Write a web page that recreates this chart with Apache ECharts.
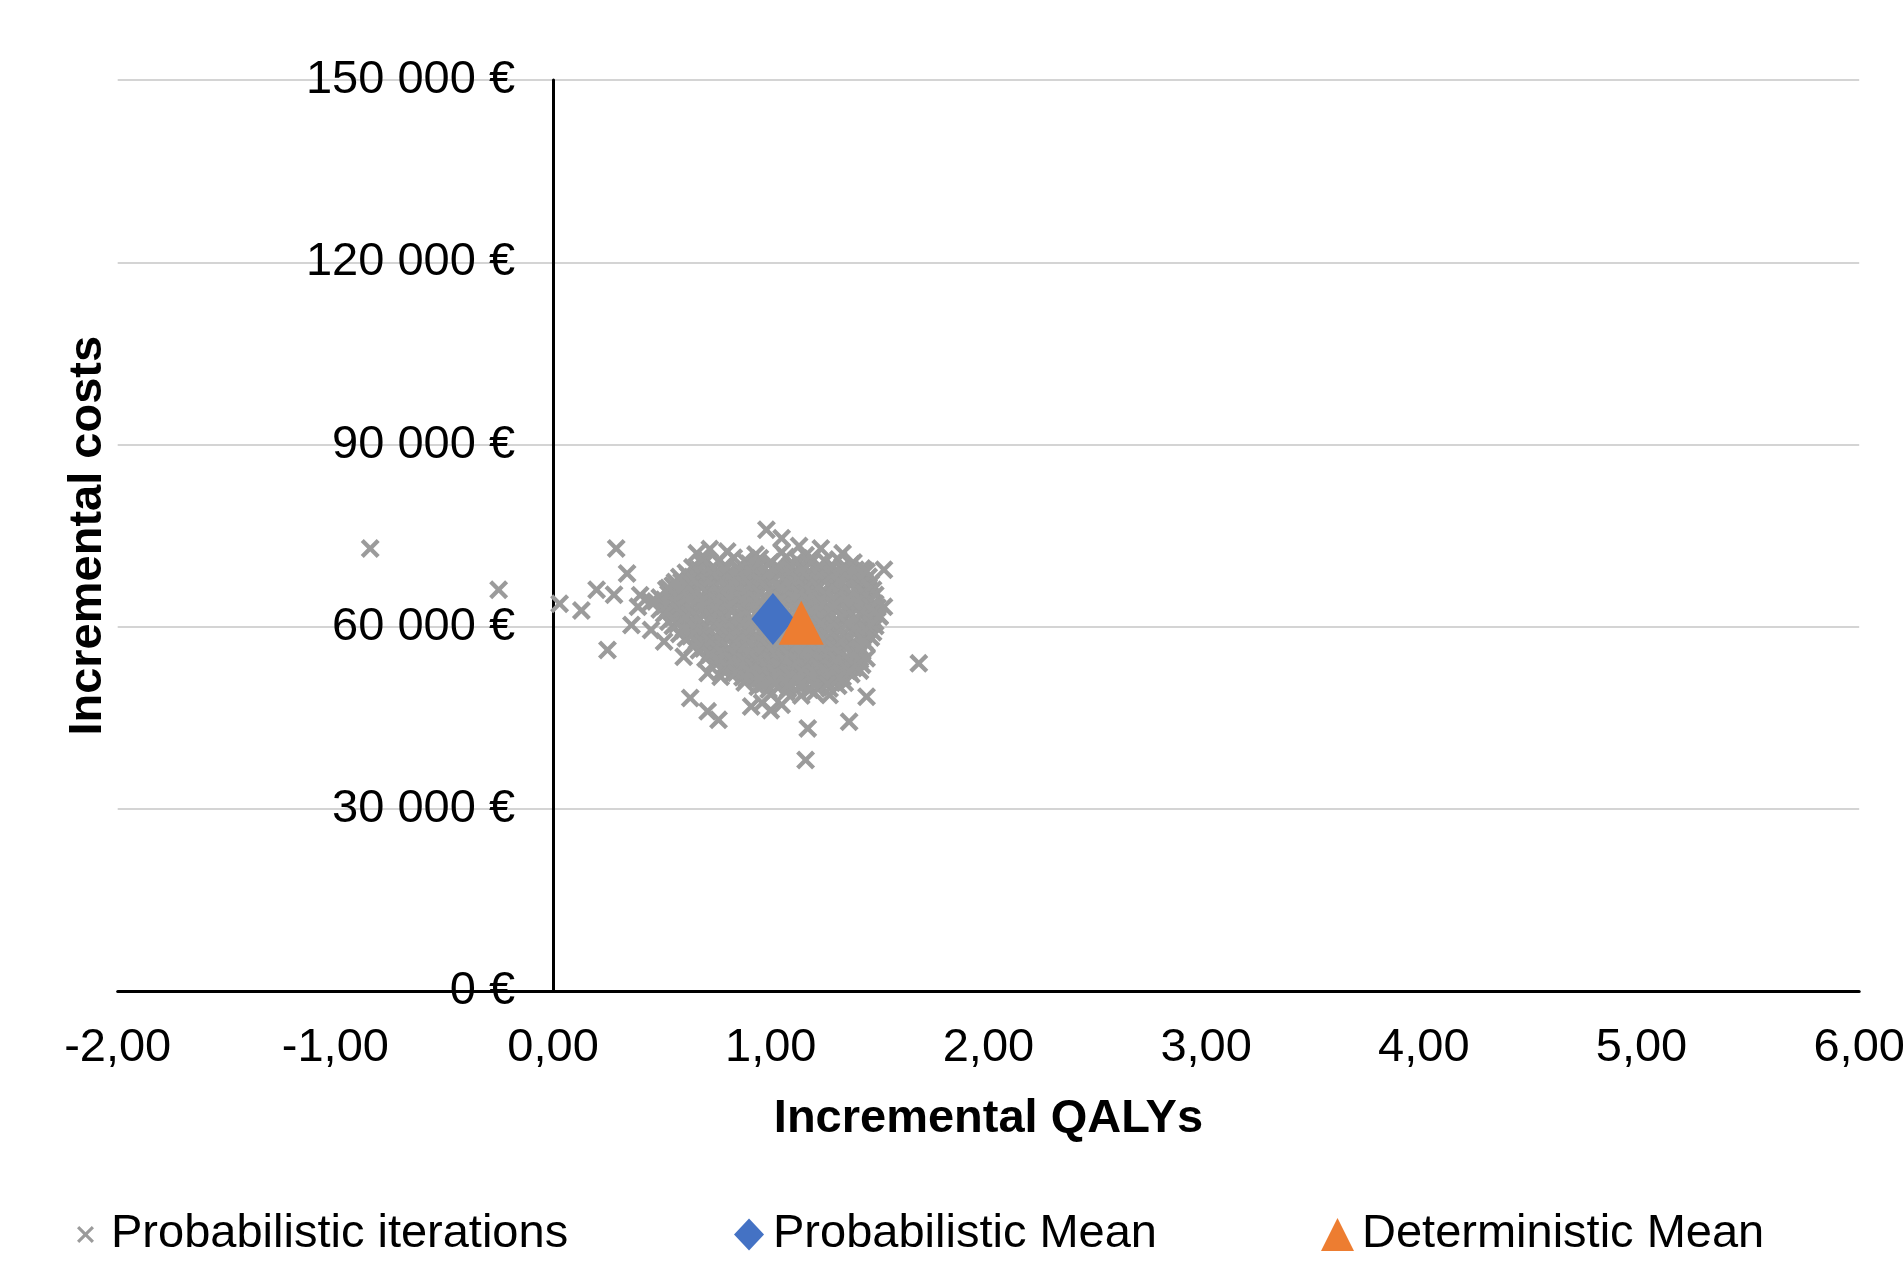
<!DOCTYPE html>
<html>
<head>
<meta charset="utf-8">
<script src="https://cdn.jsdelivr.net/npm/echarts@6/dist/echarts.min.js"></script>
<style>
  html, body { margin: 0; padding: 0; background: #ffffff; }
  #chart { width: 1903px; height: 1265px; }
</style>
</head>
<body>
<div id="chart"></div>
<script>
// ---------- DATA ----------
const xTickLabels = ['-2,00', '-1,00', '0,00', '1,00', '2,00', '3,00', '4,00', '5,00', '6,00'];
const yTickLabels = ['0 €', '30 000 €', '60 000 €', '90 000 €', '120 000 €', '150 000 €'];

const seriesNames = ['Probabilistic iterations', 'Probabilistic Mean', 'Deterministic Mean'];

// Probabilistic mean and deterministic mean [QALYs, costs]
const probabilisticMean = [[1.01, 61300]];
const deterministicMean = [[1.14, 60700]];

// Probabilistic iterations: scattered outliers around the main cloud
const iterationsOutliers = [
  [-0.84, 72900], [-0.25, 66100], [0.03, 63800], [0.13, 62700], [0.20, 66100], [0.28, 65300],
  [0.25, 56200], [0.29, 72900], [0.34, 68800], [0.36, 60300], [0.40, 65200], [0.39, 63300],
  [0.45, 64100], [0.45, 59500], [0.51, 57600], [0.53, 66400], [0.56, 67400], [0.60, 55100],
  [0.71, 52400], [0.77, 51800], [0.63, 48300], [0.71, 46100], [0.76, 44700], [0.91, 46900],
  [1.00, 46300], [0.96, 47500], [1.05, 47200], [1.17, 43300], [1.16, 38100], [1.36, 44400],
  [1.44, 48500], [1.68, 54000], [1.52, 63300], [1.50, 61700], [1.52, 69400], [1.44, 69100],
  [0.98, 76000], [1.05, 74600], [1.13, 73300], [0.72, 72800]
];

// Probabilistic iterations: main cloud
const iterationsCloud = [
  [0.66,72100],[0.80,72400],[0.93,71900],[1.05,72300],[1.16,71800],[1.23,72900],[1.33,72100],
  [0.70,71200],[0.76,70800],[0.83,71400],[0.88,70900],[0.95,71300],[1.00,70700],[1.07,71500],[1.12,71000],[1.19,71300],[1.25,70800],[1.31,71100],[1.38,70600],
  [0.64,69800],[0.69,70300],[0.74,69700],[0.79,70150],[0.85,69600],[0.90,70400],[0.94,69900],[0.99,70250],[1.04,69650],[1.09,70100],[1.13,69800],[1.18,70450],[1.23,69700],[1.28,70200],[1.33,69850],[1.37,70300],[1.42,69600],
  [0.61,68900],[0.66,69300],[0.71,68650],[0.75,69150],[0.80,68800],[0.86,69350],[0.91,68700],[0.95,69100],[1.00,68600],[1.05,69250],[1.10,68850],[1.15,69400],[1.19,68750],[1.24,69200],[1.29,68650],[1.34,69050],[1.38,68800],[1.43,69300],
  [0.58,68200],[0.63,67700],[0.68,68300],[0.72,67800],[0.77,68150],[0.82,67650],[0.87,68250],[0.92,67900],[0.97,68350],[1.01,67750],[1.06,68100],[1.11,67600],[1.16,68200],[1.20,67850],[1.25,68300],[1.30,67700],[1.35,68050],[1.40,67800],[1.45,68250],
  [0.55,66800],[0.60,67250],[0.64,66700],[0.69,67150],[0.74,66850],[0.79,67300],[0.84,66650],[0.88,67100],[0.93,66900],[0.98,67350],[1.03,66750],[1.08,67200],[1.13,66800],[1.17,67250],[1.22,66700],[1.27,67100],[1.32,66850],[1.37,67300],[1.42,66750],[1.46,67150],
  [0.52,66150],[0.57,65700],[0.62,66300],[0.66,65800],[0.71,66200],[0.76,65650],[0.81,66100],[0.85,65850],[0.90,66350],[0.95,65750],[1.00,66150],[1.05,65600],[1.09,66250],[1.14,65800],[1.19,66300],[1.24,65700],[1.29,66100],[1.34,65850],[1.39,66200],[1.43,65750],[1.47,66100],
  [0.49,64850],[0.54,65250],[0.59,64700],[0.63,65150],[0.68,64800],[0.73,65300],[0.78,64650],[0.83,65100],[0.87,64900],[0.92,65350],[0.97,64750],[1.02,65200],[1.07,64850],[1.11,65250],[1.16,64700],[1.21,65100],[1.26,64800],[1.31,65300],[1.36,64750],[1.41,65150],[1.45,64850],[1.48,65250],
  [0.47,64200],[0.52,63750],[0.57,64300],[0.61,63800],[0.66,64150],[0.71,63650],[0.76,64250],[0.80,63850],[0.85,64300],[0.90,63700],[0.95,64100],[1.00,63800],[1.04,64350],[1.09,63750],[1.14,64200],[1.19,63650],[1.24,64150],[1.28,63850],[1.33,64300],[1.38,63700],[1.43,64100],[1.48,63800],
  [0.49,62850],[0.54,63200],[0.58,62700],[0.63,63150],[0.68,62800],[0.73,63300],[0.78,62650],[0.82,63100],[0.87,62900],[0.92,63350],[0.97,62750],[1.02,63200],[1.06,62850],[1.11,63250],[1.16,62700],[1.21,63150],[1.26,62800],[1.30,63300],[1.35,62750],[1.40,63100],[1.45,62850],[1.49,63200],
  [0.51,62150],[0.56,61700],[0.60,62250],[0.65,61800],[0.70,62200],[0.75,61650],[0.79,62100],[0.84,61850],[0.89,62300],[0.94,61750],[0.99,62150],[1.03,61700],[1.08,62250],[1.13,61800],[1.18,62200],[1.23,61650],[1.27,62100],[1.32,61850],[1.37,62300],[1.42,61750],[1.46,62150],[1.50,61800],
  [0.53,60850],[0.58,61250],[0.62,60700],[0.67,61150],[0.72,60800],[0.77,61300],[0.81,60650],[0.86,61100],[0.91,60900],[0.96,61350],[1.01,60750],[1.05,61200],[1.10,60850],[1.15,61250],[1.20,60700],[1.25,61150],[1.29,60800],[1.34,61300],[1.39,60750],[1.44,61100],[1.48,60850],
  [0.55,60150],[0.60,59700],[0.64,60250],[0.69,59800],[0.74,60200],[0.79,59650],[0.83,60100],[0.88,59850],[0.93,60300],[0.98,59750],[1.03,60150],[1.07,59700],[1.12,60250],[1.17,59800],[1.22,60200],[1.27,59650],[1.31,60100],[1.36,59850],[1.41,60300],[1.45,59750],[1.48,60150],
  [0.58,58850],[0.63,59250],[0.67,58700],[0.72,59150],[0.77,58800],[0.81,59300],[0.86,58650],[0.91,59100],[0.96,58900],[1.00,59350],[1.05,58750],[1.10,59200],[1.14,58850],[1.19,59250],[1.24,58700],[1.29,59150],[1.33,58800],[1.38,59300],[1.43,58750],[1.47,59100],
  [0.61,58150],[0.66,57700],[0.70,58250],[0.75,57800],[0.80,58200],[0.84,57650],[0.89,58100],[0.94,57850],[0.99,58300],[1.03,57750],[1.08,58150],[1.13,57700],[1.17,58250],[1.22,57800],[1.27,58200],[1.31,57650],[1.36,58100],[1.41,57850],[1.46,58250],
  [0.64,56850],[0.69,57250],[0.73,56700],[0.78,57150],[0.83,56800],[0.87,57300],[0.92,56650],[0.97,57100],[1.01,56900],[1.06,57350],[1.11,56750],[1.15,57200],[1.20,56850],[1.25,57250],[1.29,56700],[1.34,57150],[1.39,56800],[1.44,57200],
  [0.67,56150],[0.72,55700],[0.76,56250],[0.81,55800],[0.86,56200],[0.90,55650],[0.95,56100],[1.00,55850],[1.04,56300],[1.09,55750],[1.14,56150],[1.18,55700],[1.23,56250],[1.28,55800],[1.32,56200],[1.37,55650],[1.42,56100],
  [0.70,54850],[0.75,55250],[0.79,54700],[0.84,55150],[0.89,54800],[0.93,55300],[0.98,54650],[1.03,55100],[1.07,54900],[1.12,55350],[1.17,54750],[1.21,55200],[1.26,54850],[1.31,55250],[1.35,54700],[1.40,55150],[1.44,54850],
  [0.74,54150],[0.79,53700],[0.83,54250],[0.88,53800],[0.92,54200],[0.97,53650],[1.02,54100],[1.06,53850],[1.11,54300],[1.16,53750],[1.20,54150],[1.25,53700],[1.30,54250],[1.34,53800],[1.39,54200],[1.42,53750],
  [0.78,52850],[0.83,53250],[0.87,52700],[0.92,53150],[0.96,52800],[1.01,53300],[1.06,52650],[1.10,53100],[1.15,52900],[1.20,53350],[1.24,52750],[1.29,53200],[1.33,52850],[1.38,53250],[1.41,52800],
  [0.82,52150],[0.87,51700],[0.91,52250],[0.96,51800],[1.00,52200],[1.05,51650],[1.10,52100],[1.14,51850],[1.19,52300],[1.24,51750],[1.28,52150],[1.33,51700],[1.37,52200],
  [0.88,50850],[0.93,51250],[0.97,50700],[1.02,51150],[1.07,50800],[1.11,51300],[1.16,50650],[1.21,51100],[1.25,50900],[1.30,51250],[1.34,50800],
  [0.94,50150],[0.99,49700],[1.04,50250],[1.08,49800],[1.13,50200],[1.18,49650],[1.22,50100],[1.27,49850],[1.31,50300],
  [1.00,48900],[1.07,49300],[1.14,48700],[1.20,49150],[1.27,48800]
];

// Probabilistic iterations: densest core of the cloud
const iterationsCore = [
  [0.67,69450],[0.73,69600],[0.79,69400],[0.85,69550],[0.91,69350],[0.97,69650],[1.03,69450],[1.09,69550],[1.15,69350],[1.21,69600],[1.27,69450],[1.33,69550],[1.39,69400],
  [0.62,68450],[0.68,68600],[0.74,68400],[0.80,68550],[0.86,68350],[0.92,68650],[0.98,68450],[1.04,68550],[1.10,68350],[1.16,68600],[1.22,68450],[1.28,68550],[1.34,68400],[1.40,68600],
  [0.59,67450],[0.65,67600],[0.71,67400],[0.77,67550],[0.83,67350],[0.89,67650],[0.95,67450],[1.01,67550],[1.07,67350],[1.13,67600],[1.19,67450],[1.25,67550],[1.31,67400],[1.37,67600],[1.43,67450],
  [0.56,66450],[0.62,66600],[0.68,66400],[0.74,66550],[0.80,66350],[0.86,66650],[0.92,66450],[0.98,66550],[1.04,66350],[1.10,66600],[1.16,66450],[1.22,66550],[1.28,66400],[1.34,66600],[1.40,66450],[1.45,66550],
  [0.53,65450],[0.59,65600],[0.65,65400],[0.71,65550],[0.77,65350],[0.83,65650],[0.89,65450],[0.95,65550],[1.01,65350],[1.07,65600],[1.13,65450],[1.19,65550],[1.25,65400],[1.31,65600],[1.37,65450],[1.43,65550],
  [0.51,64450],[0.57,64600],[0.63,64400],[0.69,64550],[0.75,64350],[0.81,64650],[0.87,64450],[0.93,64550],[0.99,64350],[1.05,64600],[1.11,64450],[1.17,64550],[1.23,64400],[1.29,64600],[1.35,64450],[1.41,64550],[1.46,64400],
  [0.51,63450],[0.57,63600],[0.63,63400],[0.69,63550],[0.75,63350],[0.81,63650],[0.87,63450],[0.93,63550],[0.99,63350],[1.05,63600],[1.11,63450],[1.17,63550],[1.23,63400],[1.29,63600],[1.35,63450],[1.41,63550],[1.46,63400],
  [0.52,62450],[0.58,62600],[0.64,62400],[0.70,62550],[0.76,62350],[0.82,62650],[0.88,62450],[0.94,62550],[1.00,62350],[1.06,62600],[1.12,62450],[1.18,62550],[1.24,62400],[1.30,62600],[1.36,62450],[1.42,62550],[1.47,62400],
  [0.55,61450],[0.61,61600],[0.67,61400],[0.73,61550],[0.79,61350],[0.85,61650],[0.91,61450],[0.97,61550],[1.03,61350],[1.09,61600],[1.15,61450],[1.21,61550],[1.27,61400],[1.33,61600],[1.39,61450],[1.45,61550],
  [0.57,60450],[0.63,60600],[0.69,60400],[0.75,60550],[0.81,60350],[0.87,60650],[0.93,60450],[0.99,60550],[1.05,60350],[1.11,60600],[1.17,60450],[1.23,60550],[1.29,60400],[1.35,60600],[1.41,60450],[1.46,60550],
  [0.60,59450],[0.66,59600],[0.72,59400],[0.78,59550],[0.84,59350],[0.90,59650],[0.96,59450],[1.02,59550],[1.08,59350],[1.14,59600],[1.20,59450],[1.26,59550],[1.32,59400],[1.38,59600],[1.44,59450],
  [0.63,58450],[0.69,58600],[0.75,58400],[0.81,58550],[0.87,58350],[0.93,58650],[0.99,58450],[1.05,58550],[1.11,58350],[1.17,58600],[1.23,58450],[1.29,58550],[1.35,58400],[1.41,58600],
  [0.66,57450],[0.72,57600],[0.78,57400],[0.84,57550],[0.90,57350],[0.96,57650],[1.02,57450],[1.08,57550],[1.14,57350],[1.20,57600],[1.26,57450],[1.32,57550],[1.38,57400],[1.43,57600],
  [0.69,56450],[0.75,56600],[0.81,56400],[0.87,56550],[0.93,56350],[0.99,56650],[1.05,56450],[1.11,56550],[1.17,56350],[1.23,56600],[1.29,56450],[1.35,56550],[1.41,56400],
  [0.72,55450],[0.78,55600],[0.84,55400],[0.90,55550],[0.96,55350],[1.02,55650],[1.08,55450],[1.14,55550],[1.20,55350],[1.26,55600],[1.32,55450],[1.38,55550],
  [0.76,54450],[0.82,54600],[0.88,54400],[0.94,54550],[1.00,54350],[1.06,54650],[1.12,54450],[1.18,54550],[1.24,54350],[1.30,54600],[1.36,54450],[1.41,54550],
  [0.80,53450],[0.86,53600],[0.92,53400],[0.98,53550],[1.04,53350],[1.10,53650],[1.16,53450],[1.22,53550],[1.28,53350],[1.34,53600],[1.39,53450],
  [0.84,52450],[0.90,52600],[0.96,52400],[1.02,52550],[1.08,52350],[1.14,52650],[1.20,52450],[1.26,52550],[1.32,52350],[1.36,52600],
  [0.89,51450],[0.95,51600],[1.01,51400],[1.07,51550],[1.13,51350],[1.19,51650],[1.25,51450],[1.31,51550],
  [0.96,50450],[1.02,50600],[1.08,50400],[1.14,50550],[1.20,50350],[1.26,50600]
];

// ---------- CHART ----------
const FONT = "'Liberation Sans', Arial, sans-serif";
const crossPath = 'path://M0,1.6L1.6,0L5,3.4L8.4,0L10,1.6L6.6,5L10,8.4L8.4,10L5,6.6L1.6,10L0,8.4L3.4,5Z';
const legendCrossPath = 'path://M0,1.3L1.3,0L5,3.7L8.7,0L10,1.3L6.3,5L10,8.7L8.7,10L5,6.3L1.3,10L0,8.7L3.7,5Z';
const colIter = '#9b9b9b', colProb = '#4472C4', colDet = '#ED7D31';

const GRID_LEFT = 117.7, GRID_RIGHT = 43.8;
const plotW = 1903 - GRID_LEFT - GRID_RIGHT;
// move the y axis (line, labels, name) to the position of x = 0
const yAxisOffset = -plotW * (0 - (-2)) / (6 - (-2));

const chart = echarts.init(document.getElementById('chart'), null, { renderer: 'canvas' });

const legendCommon = {
  top: 1211, padding: 0, selectedMode: false, symbolKeepAspect: false,
  textStyle: { fontFamily: FONT, fontSize: 47, color: '#000' }
};

chart.setOption({
  animation: false,
  backgroundColor: '#ffffff',
  grid: { left: GRID_LEFT, right: GRID_RIGHT, top: 80, bottom: 273.5, containLabel: false, outerBoundsMode: 'none' },
  legend: [
    Object.assign({}, legendCommon, { left: 77, itemWidth: 17, itemHeight: 17,
      data: [{ name: seriesNames[0], icon: legendCrossPath }],
      textStyle: Object.assign({}, legendCommon.textStyle, { padding: [0, 0, 0, 12] }) }),
    Object.assign({}, legendCommon, { left: 734, itemWidth: 30, itemHeight: 32,
      data: [{ name: seriesNames[1], icon: 'diamond' }],
      textStyle: Object.assign({}, legendCommon.textStyle, { padding: [0, 0, 0, 4] }) }),
    Object.assign({}, legendCommon, { left: 1321, itemWidth: 33, itemHeight: 33,
      data: [{ name: seriesNames[2], icon: 'triangle' }],
      textStyle: Object.assign({}, legendCommon.textStyle, { padding: [0, 0, 0, 3] }) })
  ],
  xAxis: {
    type: 'value', min: -2, max: 6, interval: 1,
    name: 'Incremental QALYs', nameLocation: 'middle', nameGap: 104,
    nameTextStyle: { fontFamily: FONT, fontSize: 47, fontWeight: 'bold', color: '#000' },
    axisLine: { show: true, onZero: false, lineStyle: { color: '#000', width: 3 } },
    axisTick: { show: false },
    splitLine: { show: false },
    axisLabel: {
      fontFamily: FONT, fontSize: 47, color: '#000', margin: 33,
      formatter: v => xTickLabels[Math.round(v + 2)]
    }
  },
  yAxis: {
    type: 'value', min: 0, max: 150000, interval: 30000,
    offset: yAxisOffset,
    name: 'Incremental costs', nameLocation: 'middle', nameGap: 442,
    nameTextStyle: { fontFamily: FONT, fontSize: 47, fontWeight: 'bold', color: '#000' },
    axisLine: { show: true, onZero: false, lineStyle: { color: '#000', width: 3 } },
    axisTick: { show: false },
    splitLine: { show: true, lineStyle: { color: '#d4d4d4', width: 2 } },
    axisLabel: {
      fontFamily: FONT, fontSize: 47, color: '#000', margin: 38,
      formatter: v => yTickLabels[Math.round(v / 30000)]
    }
  },
  series: [
    {
      name: seriesNames[0], type: 'scatter', symbol: crossPath, symbolSize: 19,
      itemStyle: { color: colIter, opacity: 1 },
      data: iterationsCloud.concat(iterationsCore, iterationsOutliers), z: 2
    },
    {
      name: seriesNames[1], type: 'scatter', symbol: 'diamond', symbolSize: [43, 52],
      itemStyle: { color: colProb, opacity: 1 },
      data: probabilisticMean, z: 3
    },
    {
      name: seriesNames[2], type: 'scatter', symbol: 'triangle', symbolSize: [45, 44],
      itemStyle: { color: colDet, opacity: 1 },
      data: deterministicMean, z: 4
    }
  ]
});
</script>
</body>
</html>
